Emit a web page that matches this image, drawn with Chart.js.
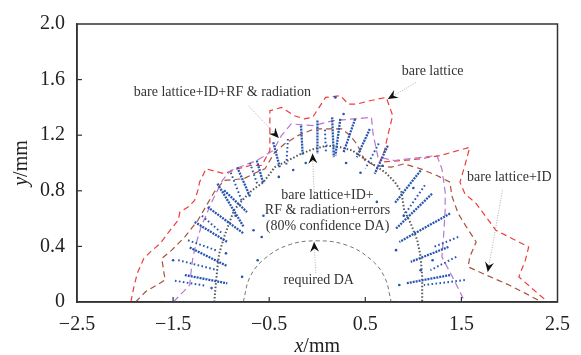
<!DOCTYPE html>
<html>
<head>
<meta charset="utf-8">
<script src="https://cdn.jsdelivr.net/npm/chart.js@4/dist/chart.umd.min.js"></script>
<style>
  html, body { margin: 0; padding: 0; background: #fff; }
</style>
</head>
<body>
<canvas id="daChart" width="581" height="355"></canvas>
<script>
// axis ranges / ticks (mm)
const xRange = [-2.5, 2.5];
const yRange = [0, 2.0];
const xStep = 1;
const yStep = 0.4;

// dynamic aperture contours, [x, y] in mm
const bareLattice = [
  [-1.94,0],[-1.907,0.11],[-1.873,0.206],[-1.805,0.313],[-1.736,0.361],[-1.634,0.421],
  [-1.532,0.516],[-1.447,0.588],[-1.429,0.647],[-1.345,0.683],[-1.276,0.731],[-1.242,0.803],
  [-1.225,0.862],[-1.157,0.958],[-0.969,0.923],[-0.832,0.958],[-0.696,0.982],[-0.578,0.982],
  [-0.493,1.09],[-0.493,1.376],[-0.373,1.40],[-0.237,1.34],[-0.135,1.317],[-0.049,1.328],
  [0.087,1.472],[0.24,1.484],[0.325,1.424],[0.411,1.424],[0.547,1.448],[0.718,1.472],
  [0.785,1.341],[0.734,1.197],[0.70,1.09],[0.65,1.006],[0.884,1.018],[1.076,1.03],
  [1.28,1.054],[1.587,1.113],[1.536,0.982],[1.485,0.862],[1.536,0.779],[1.654,0.708],
  [1.859,0.516],[2.20,0.396],[2.166,0.301],[2.098,0.181],[2.234,0.098],[2.40,0]
];
const bareLatticeID = [
  [-1.89,0],[-1.787,0.074],[-1.583,0.158],[-1.618,0.313],[-1.515,0.373],[-1.378,0.468],
  [-1.242,0.588],[-1.072,0.791],[-0.969,0.875],[-0.765,0.887],[-0.629,0.934],[-0.544,0.958],
  [-0.442,1.077],[-0.339,1.138],[-0.202,1.197],[-0.033,1.245],[0.104,1.245],[0.258,1.245],
  [0.343,1.197],[0.411,1.138],[0.496,1.018],[0.598,0.982],[0.769,0.97],[0.905,0.994],
  [1.076,0.958],[1.245,0.91],[1.382,0.862],[1.399,0.767],[1.467,0.636],[1.552,0.54],
  [1.654,0.432],[1.587,0.325],[1.57,0.253],[1.757,0.194],[1.996,0.122],[2.166,0.062],[2.336,0]
];
const bareLatticeIDRF = [
  [-1.498,0],[-1.327,0.122],[-1.311,0.229],[-1.293,0.325],[-1.26,0.421],[-1.209,0.54],
  [-1.157,0.624],[-1.106,0.708],[-0.987,0.875],[-0.902,0.946],[-0.629,1.018],[-0.458,1.09],
  [-0.373,1.197],[-0.271,1.281],[-0.036,1.269],[0.168,1.305],[0.564,1.328],[0.581,1.209],
  [0.632,1.042],[0.803,1.018],[1.245,1.054],[1.297,0.958],[1.331,0.791],[1.331,0.66],
  [1.314,0.468],[1.297,0.325],[1.433,0.146],[1.536,0]
];
const confidenceDA = [
  [-1.072,0],[-1.055,0.134],[-1.038,0.253],[-1.02,0.349],[-0.969,0.468],[-0.918,0.564],
  [-0.867,0.66],[-0.782,0.731],[-0.68,0.803],[-0.56,0.862],[-0.442,0.97],[-0.305,1.018],
  [-0.169,1.066],[-0.033,1.102],[0.104,1.125],[0.24,1.113],[0.365,1.09],[0.467,1.042],
  [0.57,0.994],[0.706,0.934],[0.809,0.862],[0.876,0.791],[0.905,0.66],[0.973,0.564],
  [1.041,0.444],[1.076,0.325],[1.092,0.181],[1.092,0]
];
const requiredDA = [
  [-0.77,0],[-0.7,0.18],[-0.55,0.31],[-0.3,0.41],[0,0.44],[0.3,0.41],[0.55,0.31],[0.7,0.18],[0.77,0]
];

// tracked particle streaks, [x1, y1, x2, y2] in mm
const denseStreaks = [
  [-1.378,0.194,-0.936,0.134],[-1.327,0.392,-0.936,0.258],[-1.276,0.576,-0.936,0.432],
  [-1.14,0.683,-0.765,0.492],[-0.969,0.803,-0.731,0.647],[-1.038,0.851,-0.765,0.54],
  [-0.833,0.97,-0.697,0.755],[-0.629,1.018,-0.56,0.851],[-0.458,1.149,-0.39,0.97],
  [-0.169,1.269,-0.151,1.054],[0.002,1.305,0.002,1.066],[0.155,1.328,0.172,1.042],
  [0.24,1.317,0.189,1.054],[0.394,1.317,0.274,1.077],[0.547,1.245,0.411,1.042],
  [0.734,1.125,0.598,0.923],[1.076,0.946,0.803,0.708],[1.194,0.779,0.82,0.528],
  [1.382,0.636,0.854,0.432],[1.365,0.396,0.973,0.289],[1.382,0.194,0.922,0.134]
];
const lightStreaks = [
  [-1.481,0.153,-1.157,0.117],[-1.447,0.301,-1.038,0.229],[-1.345,0.444,-1.038,0.368],
  [-0.305,1.173,-0.322,0.982],[1.447,0.325,1.178,0.229],[1.536,0.158,1.109,0.122],
  [1.467,0.468,1.212,0.396],[-0.9,0.93,-0.78,0.72],[-0.7,1.0,-0.62,0.84],
  [0.08,1.24,0.09,1.08],[0.64,1.14,0.5,0.96],[1.12,0.84,0.9,0.62],[-1.2,0.62,-1.0,0.5]
];
const baseRows = [[-1.58,0,-0.8,0],[0.85,0,1.58,0]];
const strayPoints = [
  [-0.578,0.468],[-0.663,0.516],[-0.782,0.181],[0.854,0.122],[0.82,0.373],[1.076,0.229],
  [0.274,1.353],[0.189,1.472],[-0.56,0.62],[0.62,0.72],[-1.5,0.3],[-0.62,0.3],[0.9,0.62],
  [-0.4,0.9],[-0.25,0.95],[0.45,0.93],[0.68,0.98],[-0.85,0.62],[1.2,0.3],[-1.1,0.1],
  [0.3,1.0],[-0.12,1.0],[1.0,0.82],[-0.95,0.35]
];

const toXY = arr => arr.map(p => ({ x: p[0], y: p[1] }));
const segs = arr => {
  const out = [];
  arr.forEach(s => { out.push({ x: s[0], y: s[1] }, { x: s[2], y: s[3] }, { x: s[2], y: null }); });
  return out;
};

const blue = '#2656b0';
const serif = "'Liberation Serif', 'Times New Roman', serif";

function line(data, color, dash, width, extra) {
  return Object.assign({
    data: data, showLine: true, borderColor: color, borderDash: dash, borderWidth: width,
    pointRadius: 0, tension: 0, spanGaps: false
  }, extra || {});
}

// annotations: text position and leader (from -> arrow tip), all in mm
const notes = [
  { lines: ['bare lattice+ID+RF & radiation'], at: [-0.987, 1.505], from: [-0.715, 1.412], tip: [-0.40, 1.18] },
  { lines: ['bare lattice'], at: [1.201, 1.663], from: [1.025, 1.579], tip: [0.734, 1.46] },
  { lines: ['bare lattice+ID'], at: [1.999, 0.896], from: [1.927, 0.803], tip: [1.774, 0.215] },
  { lines: ['bare lattice+ID+', 'RF & radiation+errors', '(80% confidence DA)'], at: [0.107, 0.659], from: [-0.033, 0.791], tip: [-0.049, 1.068] },
  { lines: ['required DA'], at: [0.015, 0.158], from: [-0.015, 0.208], tip: [-0.033, 0.432] }
];

const framePlugin = {
  id: 'frame',
  afterDraw(chart) {
    const ctx = chart.ctx, a = chart.chartArea, sx = chart.scales.x, sy = chart.scales.y;
    ctx.save();
    // leaders and labels
    notes.forEach(n => {
      const fx = sx.getPixelForValue(n.from[0]), fy = sy.getPixelForValue(n.from[1]);
      const tx = sx.getPixelForValue(n.tip[0]), ty = sy.getPixelForValue(n.tip[1]);
      ctx.strokeStyle = '#9a9a9a';
      ctx.lineWidth = 0.8;
      ctx.setLineDash([1, 1.5]);
      ctx.beginPath(); ctx.moveTo(fx, fy); ctx.lineTo(tx, ty); ctx.stroke();
      ctx.setLineDash([]);
      const ang = Math.atan2(ty - fy, tx - fx);
      ctx.save();
      ctx.translate(tx, ty); ctx.rotate(ang);
      ctx.fillStyle = '#111';
      ctx.beginPath();
      ctx.moveTo(0, 0); ctx.lineTo(-10, -4.5); ctx.lineTo(-6.5, 0); ctx.lineTo(-10, 4.5);
      ctx.closePath(); ctx.fill();
      ctx.restore();
      ctx.fillStyle = '#333';
      ctx.font = '14px ' + serif;
      ctx.textAlign = 'center';
      ctx.textBaseline = 'middle';
      const cx = sx.getPixelForValue(n.at[0]), cy = sy.getPixelForValue(n.at[1]);
      const lh = 15.5, h0 = cy - (n.lines.length - 1) * lh / 2;
      n.lines.forEach((t, i) => ctx.fillText(t, cx, h0 + i * lh));
    });
    // box and inward ticks
    ctx.strokeStyle = '#333';
    ctx.lineWidth = 1.5;
    ctx.strokeRect(a.left, a.top, a.right - a.left, a.bottom - a.top);
    ctx.lineWidth = 1.2;
    sx.ticks.forEach(t => {
      const px = sx.getPixelForValue(t.value);
      if (px <= a.left + 1 || px >= a.right - 1) return;
      ctx.beginPath(); ctx.moveTo(px, a.bottom); ctx.lineTo(px, a.bottom - 5); ctx.stroke();
    });
    sy.ticks.forEach(t => {
      const py = sy.getPixelForValue(t.value);
      if (py <= a.top + 1 || py >= a.bottom - 1) return;
      ctx.beginPath(); ctx.moveTo(a.left, py); ctx.lineTo(a.left + 5, py); ctx.stroke();
    });
    // axis titles with italic variable
    ctx.fillStyle = '#222';
    ctx.textBaseline = 'alphabetic';
    ctx.textAlign = 'left';
    const drawTitle = (v, x, y) => {
      ctx.font = 'italic 20px ' + serif;
      const w1 = ctx.measureText(v).width;
      ctx.font = '20px ' + serif;
      const w2 = ctx.measureText('/mm').width;
      const x0 = x - (w1 + w2) / 2;
      ctx.font = 'italic 20px ' + serif;
      ctx.fillText(v, x0, y);
      ctx.font = '20px ' + serif;
      ctx.fillText('/mm', x0 + w1, y);
    };
    drawTitle('x', (a.left + a.right) / 2, 352);
    ctx.save();
    ctx.translate(27, (a.top + a.bottom) / 2);
    ctx.rotate(-Math.PI / 2);
    drawTitle('y', 0, 0);
    ctx.restore();
    ctx.restore();
  }
};

new Chart(document.getElementById('daChart'), {
  type: 'scatter',
  data: {
    datasets: [
      line(segs(baseRows), '#3d6cc4', [1.5, 1.5], 2.2),
      line(segs(lightStreaks), blue, [1.6, 2.4], 2),
      line(segs(denseStreaks), blue, [2, 1], 2.3),
      { data: toXY(strayPoints), pointRadius: 1.3, pointBackgroundColor: blue, pointBorderWidth: 0 },
      line(toXY(requiredDA), '#666', [4, 3], 0.9, { tension: 0.4 }),
      line(toXY(confidenceDA), '#555', [1.5, 2], 2),
      line(toXY(bareLatticeIDRF), '#b678d2', [7, 4], 1.2),
      line(toXY(bareLatticeID), '#a8503c', [6, 4], 1.2),
      line(toXY(bareLattice), '#ee3b3b', [6, 4], 1.2)
    ]
  },
  options: {
    responsive: false,
    devicePixelRatio: 1,
    animation: false,
    layout: { padding: { top: 23, right: 15, left: 0, bottom: 0 } },
    plugins: { legend: { display: false }, tooltip: { enabled: false } },
    scales: {
      x: {
        type: 'linear', min: xRange[0], max: xRange[1],
        grid: { display: false, drawTicks: false },
        border: { color: '#333', width: 1.5 },
        ticks: {
          stepSize: xStep, padding: 11, color: '#222', font: { family: serif, size: 20 },
          callback: v => v.toFixed(1).replace('-', '\u2212')
        },
        afterFit: s => { s.height = 53; }
      },
      y: {
        type: 'linear', min: yRange[0], max: yRange[1],
        grid: { display: false, drawTicks: false },
        border: { color: '#333', width: 1.5 },
        ticks: {
          stepSize: yStep, padding: 12, color: '#222', font: { family: serif, size: 20 },
          callback: v => (Math.abs(v) < 1e-9 ? '0' : v.toFixed(1))
        },
        afterFit: s => { s.width = 77; }
      }
    }
  },
  plugins: [framePlugin]
});
</script>
</body>
</html>
